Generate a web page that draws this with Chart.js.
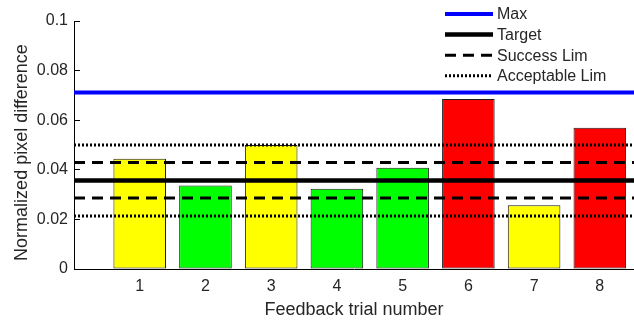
<!DOCTYPE html>
<html>
<head>
<meta charset="utf-8">
<script src="https://cdn.jsdelivr.net/npm/chart.js@4.4.0/dist/chart.umd.min.js"></script>
<style>
    html, body { margin: 0; padding: 0; background: #fff; overflow: hidden; }
</style>
</head>
<body>
<canvas id="chart" width="634" height="321"></canvas>
<script>
// Data
const trials = [1, 2, 3, 4, 5, 6, 7, 8];
const pixelDiff = [0.0445, 0.0337, 0.0500, 0.0324, 0.0408, 0.0685, 0.0257, 0.0570];
const barColors = ['#ffff00', '#00ff00', '#ffff00', '#00ff00', '#00ff00', '#ff0000', '#ffff00', '#ff0000'];
const maxLevel = 0.0712;
const targetLevel = 0.0357;
const successLims = [0.0429, 0.0286];
const acceptableLims = [0.0500, 0.0214];
const yTickStep = 0.02;
const xRange = [0, 8.52];

const textColor = '#262626';
const fontFamily = '"Liberation Sans", Arial, sans-serif';

// Horizontal reference line across the whole x range
function hLine(label, level, color, width, dash, inLegend) {
    return {
        type: 'line',
        label: label,
        data: [{ x: xRange[0], y: level }, { x: xRange[1], y: level }],
        borderColor: color,
        borderWidth: width,
        borderDash: dash,
        pointRadius: 0,
        fill: false,
        order: 1,
        inLegend: inLegend
    };
}

// Legend drawn in the top right corner, like the original figure
const lineLegend = {
    id: 'lineLegend',
    afterDraw(chart) {
        const ctx = chart.ctx;
        const items = chart.data.datasets.filter(d => d.inLegend);
        ctx.save();
        ctx.font = '16px ' + fontFamily;
        ctx.textBaseline = 'middle';
        ctx.fillStyle = textColor;
        items.forEach((d, i) => {
            const y = 14 + i * 20.6;
            ctx.beginPath();
            ctx.setLineDash(d.borderDash || []);
            ctx.lineWidth = d.borderWidth;
            ctx.strokeStyle = d.borderColor;
            ctx.moveTo(445, y);
            ctx.lineTo(493, y);
            ctx.stroke();
            ctx.setLineDash([]);
            ctx.fillText(d.label, 497, y + 1);
        });
        ctx.restore();
    }
};

const datasets = [
    {
        type: 'bar',
        label: 'Trials',
        data: trials.map((t, i) => ({ x: t, y: pixelDiff[i] })),
        backgroundColor: barColors,
        borderColor: '#1a1a1a',
        borderWidth: 1,
        borderSkipped: false,
        categoryPercentage: 1,
        barPercentage: 0.8,
        order: 2
    },
    hLine('Max', maxLevel, '#0000ff', 4, [], true),
    hLine('Target', targetLevel, '#000000', 4.5, [], true),
    hLine('Success Lim', successLims[0], '#000000', 3, [11, 7], true),
    hLine('Success Lim', successLims[1], '#000000', 3, [11, 7], false),
    hLine('Acceptable Lim', acceptableLims[0], '#000000', 3, [2, 2], true),
    hLine('Acceptable Lim', acceptableLims[1], '#000000', 3, [2, 2], false)
];

new Chart(document.getElementById('chart'), {
    type: 'bar',
    data: { datasets: datasets },
    plugins: [lineLegend],
    options: {
        responsive: false,
        animation: false,
        devicePixelRatio: 1,
        layout: { padding: { top: 21, right: 0, bottom: 0, left: 0 } },
        plugins: {
            legend: { display: false },
            tooltip: { enabled: false }
        },
        scales: {
            x: {
                type: 'linear',
                min: xRange[0],
                max: xRange[1],
                offset: false,
                afterFit: s => { s.height = 52; s.paddingLeft = 0; s.paddingRight = 0; },
                border: { display: true, color: '#000', width: 1 },
                grid: { display: false, drawTicks: false, offset: false },
                ticks: {
                    stepSize: 1,
                    includeBounds: false,
                    autoSkip: false,
                    maxRotation: 0,
                    padding: 8,
                    color: textColor,
                    font: { family: fontFamily, size: 16 },
                    callback: v => trials.includes(v) ? String(v) : ''
                },
                title: {
                    display: true,
                    text: 'Feedback trial number',
                    color: textColor,
                    font: { family: fontFamily, size: 18 },
                    padding: { top: 0, bottom: 0 }
                }
            },
            y: {
                min: 0,
                max: 0.1,
                afterFit: s => { s.width = 74; s.paddingTop = 0; s.paddingBottom = 0; },
                border: { display: true, color: '#000', width: 1 },
                grid: { drawOnChartArea: false, drawTicks: true, tickLength: -6, color: '#000', lineWidth: 1 },
                ticks: {
                    stepSize: yTickStep,
                    padding: 12,
                    color: textColor,
                    font: { family: fontFamily, size: 16 },
                    callback: v => String(Number(v.toFixed(2)))
                },
                title: {
                    display: true,
                    // trailing spaces nudge the rotated label down, as in the original
                    text: 'Normalized pixel difference   ',
                    color: textColor,
                    font: { family: fontFamily, size: 18 },
                    padding: { top: 11, bottom: 0 }
                }
            }
        }
    }
});
</script>
</body>
</html>
